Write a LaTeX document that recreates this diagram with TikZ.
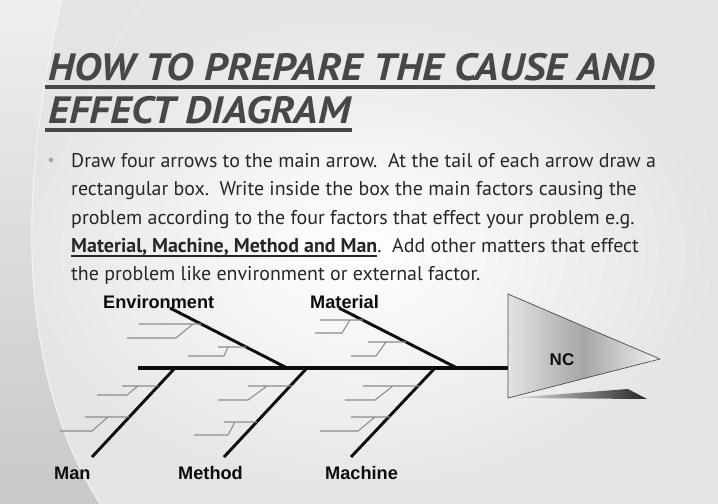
\documentclass[tikz,border=0pt]{standalone}
\usepackage{fontspec}
\setmainfont{PT Sans}
\newfontfamily\titlefont[FakeStretch=1.1]{PT Sans}
\newfontfamily\labelfont{Liberation Sans}
\usetikzlibrary{calc}
\definecolor{slideink}{HTML}{262626}
\definecolor{titleink}{HTML}{474747}
\definecolor{fishink}{HTML}{0D0D0D}
\definecolor{ribgray}{HTML}{8C8C8C}
\definecolor{slidebg}{HTML}{E4E4E4}
\definecolor{slideedge}{HTML}{C8C8C8}
\newsavebox{\slideulbox}
\newcommand{\slideuline}[1]{\sbox{\slideulbox}{#1}\rlap{\rule[-3.6pt]{\wd\slideulbox}{1.4pt}}\usebox{\slideulbox}}
\tikzset{
  titletext/.style={inner sep=0pt, anchor=base west, text=titleink,
    font=\titlefont\fontsize{32.5}{36.7}\selectfont\bfseries\itshape},
  titlerule/.style={line width=2.6pt, titleink},
  bodytext/.style={inner sep=0pt, align=left, text=slideink,
    font=\fontsize{17}{24.2}\selectfont},
  bonelabel/.style={inner sep=0pt, anchor=base west, text=fishink,
    font=\labelfont\bfseries\fontsize{15.5}{18}\selectfont},
  spine/.style={line width=3.4pt, fishink},
  bone/.style={line width=2.5pt, fishink},
  rib/.style={line width=0.9pt, ribgray},
  headshape/.style={draw=black!70, line width=0.6pt, shading=axis,
    left color=gray!22, right color=gray!10, middle color=gray!70},
  arcline/.style={line width=0.8pt, white!92!gray},
}

\begin{document}
\begin{tikzpicture}[x=0.03cm, y=-0.03cm]
    \useasboundingbox (0,0) rectangle (718,504);
    % slide background
    \shade[inner color=white, outer color=slidebg] (0,0) rectangle (718,504);
    \shade[top color=slidebg!60, bottom color=slideedge]
      (0,0) -- (62,0) .. controls (22,170) and (10,360) .. (100,504) -- (0,504) -- cycle;
    \draw[arcline] (62,0) .. controls (22,170) and (10,360) .. (100,504);
    \draw[arcline, white!85!gray] (145,0) .. controls (110,50) and (80,100) .. (60,170);

    % title
    \node[titletext] (title1) at (48,80) {HOW TO PREPARE THE CAUSE AND};
    \node[titletext] (title2) at (48,123) {EFFECT DIAGRAM};
    \draw[titlerule] ([shift={(-3,7)}]title1.base west) -- ([shift={(1,7)}]title1.base east);
    \draw[titlerule] ([shift={(-3,7)}]title2.base west) -- ([shift={(1,7)}]title2.base east);

    % bullet text
    \node[inner sep=0pt, text=gray!70, font=\fontsize{14}{16}\selectfont] (dot) at (51,162) {\textbullet};
    \node[bodytext, anchor=north west] (steps) at (71,153)
      {Draw four arrows to the main arrow.\ \ At the tail of each arrow draw a\\
       rectangular box.\ \ Write inside the box the main factors causing the\\
       problem according to the four factors that effect your problem e.g.\\
       \slideuline{\textbf{Material, Machine, Method and Man}}.\ \ Add other matters that effect\\
       the problem like environment or external factor.};

    % fish head
    \coordinate (headtop) at (508,294);
    \coordinate (headtip) at (660,359);
    \coordinate (headbot) at (508,398);
    \shade[left color=gray!20, right color=black!85]
      (510,398) -- (628,389) -- (647,399) -- cycle;
    \path[headshape] (headtop) -- (headtip) -- (headbot) -- cycle;
    \node[text=fishink, font=\labelfont\bfseries\fontsize{14.5}{16}\selectfont] (nc) at (562,360) {NC};

    % spine and bones
    \coordinate (tail) at (138,368);
    \coordinate (headbase) at (508,368);
    \draw[spine] (tail) -- (headbase);
    \foreach \name/\jx/\ex/\ey in {env/287/170/308, mat/457/339/308,
                                   man/175/92/457, meth/307/224/457, mach/435/351/457}{
      \coordinate (\name-joint) at (\jx,368);
      \coordinate (\name-end) at (\ex,\ey);
      \draw[bone] (\name-joint) -- (\name-end);
    }

    % ribs on each bone
    \foreach \a/\b/\ya/\c/\d/\yb/\e in {
        139/201/324/193/176/338/127, 218/246/347/228/224/356/188,
        320/363/320/350/342/333/315, 368/406/342/386/376/356/351,
        122/158/386/138/127/395/97,  85/129/417/108/92/431/60,
        248/292/386/267/248/400/218, 224/257/422/235/228/435/194,
        363/420/386/393/375/400/345, 351/390/417/375/358/431/320}{
      \draw[rib] (\e,\yb) -- (\d,\yb) -- (\c,\ya) (\a,\ya) -- (\b,\ya);
    }

    % bone labels
    \node[bonelabel] (envlabel) at (103,308) {Environment};
    \node[bonelabel] (matlabel) at (310,308) {Material};
    \node[bonelabel] (manlabel) at (54,479) {Man};
    \node[bonelabel] (methlabel) at (178,479) {Method};
    \node[bonelabel] (machlabel) at (325,479) {Machine};
\end{tikzpicture}
\end{document}
